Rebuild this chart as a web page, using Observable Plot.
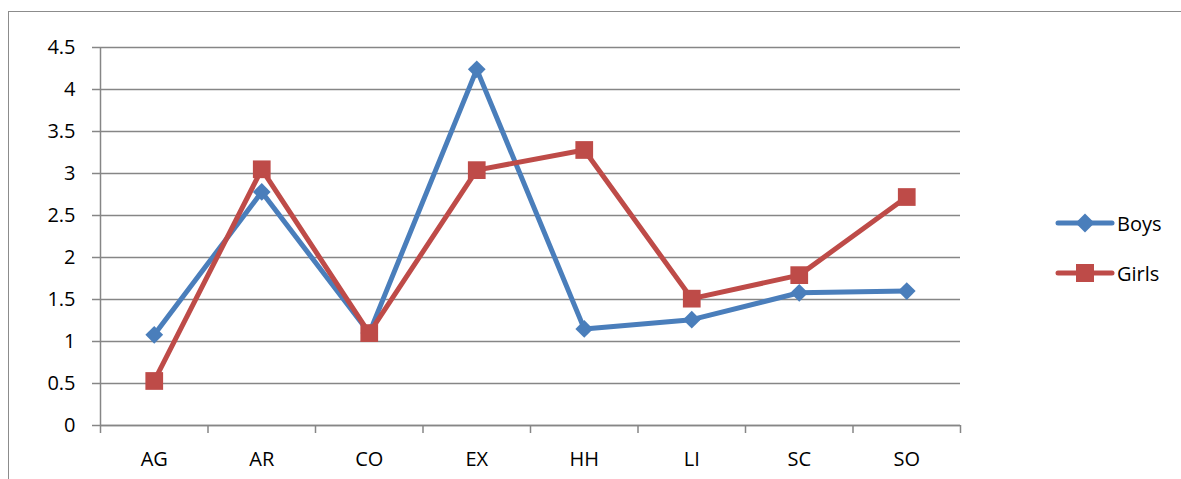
<!DOCTYPE html>
<html>
<head>
<meta charset="utf-8">
<script src="https://cdn.jsdelivr.net/npm/d3@7"></script>
<script src="https://cdn.jsdelivr.net/npm/@observablehq/plot@0.6"></script>
<style>
  html, body { margin: 0; padding: 0; background: #fff; }
  #wrap { position: relative; width: 1181px; height: 479px; overflow: hidden; font-family: "Open Sans", sans-serif; }
  #border { position: absolute; left: 8px; top: 11px; width: 1180px; height: 480px; border: 1.5px solid #8c8c8c; box-sizing: border-box; }
  #chart { position: absolute; left: 0; top: 0; }
  .leg { position: absolute; display: flex; align-items: center; font-size: 20px; color: #000; }
  .leg svg { display: block; margin-right: 2px; }
</style>
</head>
<body>
<div id="wrap">
  <div id="border"></div>
  <div id="chart"></div>
  <div id="legend"></div>
</div>
<script>
const categories = ["AG", "AR", "CO", "EX", "HH", "LI", "SC", "SO"];
const boys = [1.08, 2.78, 1.10, 4.24, 1.15, 1.26, 1.58, 1.60];
const girls = [0.53, 3.05, 1.10, 3.04, 3.28, 1.51, 1.79, 2.72];
const yTicks = [0, 0.5, 1, 1.5, 2, 2.5, 3, 3.5, 4, 4.5];
const seriesNames = ["Boys", "Girls"];
const seriesColors = ["#4a7ebb", "#be4b48"];

const boysData = categories.map((c, i) => ({cat: c, x: i + 0.5, y: boys[i]}));
const girlsData = categories.map((c, i) => ({cat: c, x: i + 0.5, y: girls[i]}));
const boundaries = d3.range(0, categories.length + 1);
const centers = categories.map((c, i) => i + 0.5);

const gridColor = "#868686";
const font = "\"Open Sans\", sans-serif";

const plot = Plot.plot({
  width: 1181,
  height: 479,
  marginLeft: 100,
  marginRight: 221,
  marginTop: 47,
  marginBottom: 54,
  style: {fontFamily: font, fontSize: "20px", background: "transparent", color: "#000"},
  x: {type: "linear", domain: [0, categories.length], axis: null},
  y: {domain: [0, 4.5], axis: null},
  marks: [
    Plot.gridY(yTicks, {stroke: gridColor, strokeOpacity: 1, strokeWidth: 1.5}),
    Plot.axisY(yTicks, {label: null, tickSize: 8, tickPadding: 17, stroke: gridColor, strokeOpacity: 1, strokeWidth: 1.5, fill: "#000", tickFormat: d => String(d), fontSize: 20}),
    Plot.ruleX([0], {stroke: gridColor, strokeWidth: 1.5}),
    Plot.ruleY([0], {stroke: gridColor, strokeWidth: 1.5}),
    Plot.axisX(boundaries, {label: null, tickSize: 8, stroke: gridColor, strokeOpacity: 1, strokeWidth: 1.5, tickFormat: () => ""}),
    Plot.axisX(centers, {label: null, tickSize: 0, tickPadding: 26, fill: "#000", fontSize: 20, tickFormat: d => categories[Math.round(d - 0.5)]}),
    Plot.line(boysData, {x: "x", y: "y", stroke: seriesColors[0], strokeWidth: 5, strokeLinejoin: "round", strokeLinecap: "round"}),
    Plot.line(girlsData, {x: "x", y: "y", stroke: seriesColors[1], strokeWidth: 5, strokeLinejoin: "round", strokeLinecap: "round"}),
    Plot.dot(boysData, {x: "x", y: "y", symbol: "diamond2", r: 8, fill: seriesColors[0], stroke: "none"}),
    Plot.dot(girlsData, {x: "x", y: "y", symbol: "square", r: 10, fill: seriesColors[1], stroke: "none"})
  ]
});
document.getElementById("chart").appendChild(plot);

// legend
const legend = document.getElementById("legend");
const legTops = [223, 273];
seriesNames.forEach((name, i) => {
  const div = document.createElement("div");
  div.className = "leg";
  div.style.left = "1055px";
  div.style.top = (legTops[i] - 15) + "px";
  div.style.height = "30px";
  const marker = i === 0
    ? `<path d="M30,5.5 L39.5,15 L30,24.5 L20.5,15 Z" fill="${seriesColors[i]}"/>`
    : `<rect x="21" y="6" width="18" height="18" fill="${seriesColors[i]}"/>`;
  div.innerHTML = `<svg width="60" height="30"><line x1="3" y1="15" x2="57" y2="15" stroke="${seriesColors[i]}" stroke-width="5" stroke-linecap="round"/>${marker}</svg><span>${name}</span>`;
  legend.appendChild(div);
});
</script>
</body>
</html>
